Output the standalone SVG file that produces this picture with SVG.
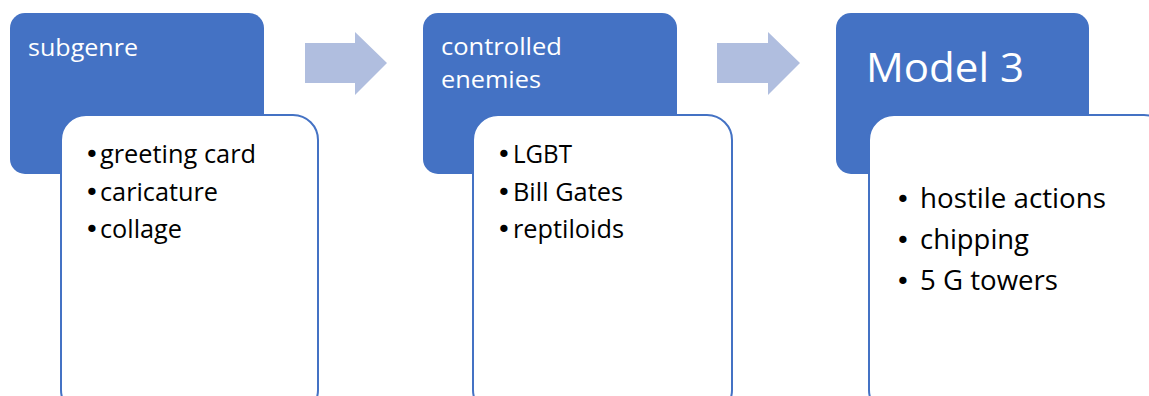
<svg xmlns="http://www.w3.org/2000/svg" width="1149" height="396" viewBox="0 0 1149 396">
<style>
.hdr{fill:#4472C4;}
.card{fill:#FFFFFF;stroke:#4472C4;stroke-width:2;}
.arrow{fill:#B0BEDF;}
.ht{fill:#FFFFFF;font-family:"Open Sans","Liberation Sans",sans-serif;font-size:24px;}
.bt{fill:#000000;font-family:"Open Sans","Liberation Sans",sans-serif;font-size:25px;}
.bt3{fill:#000000;font-family:"Open Sans","Liberation Sans",sans-serif;font-size:27px;}
.bl{fill:#000000;font-family:"DejaVu Sans",sans-serif;font-size:25px;}
</style>
<rect width="1149" height="396" fill="#FFFFFF"/>
<g id="connectors">
<polygon class="arrow" points="305,43 355,43 355,32 387,63 355,95 355,83 305,83"/>
<polygon class="arrow" points="717,43 768,43 768,32 800,63 768,95 768,83 717,83"/>
</g>
<g id="node1">
<rect class="hdr" x="10" y="13" width="254" height="161" rx="15"/>
<text class="ht" x="28" y="56" textLength="110" lengthAdjust="spacingAndGlyphs">subgenre</text>
<rect class="card" x="61" y="115" width="257" height="300" rx="25"/>
<text class="bl" x="84.5" y="163">•</text>
<text class="bt" x="100" y="163" textLength="156" lengthAdjust="spacingAndGlyphs">greeting card</text>
<text class="bl" x="84.5" y="201">•</text>
<text class="bt" x="100" y="201" textLength="118" lengthAdjust="spacingAndGlyphs">caricature</text>
<text class="bl" x="84.5" y="238">•</text>
<text class="bt" x="100" y="238" textLength="82" lengthAdjust="spacingAndGlyphs">collage</text>
</g>
<g id="node2">
<rect class="hdr" x="423" y="13" width="254" height="161" rx="15"/>
<text class="ht" x="441" y="55" textLength="121" lengthAdjust="spacingAndGlyphs">controlled</text>
<text class="ht" x="441" y="88" textLength="100" lengthAdjust="spacingAndGlyphs">enemies</text>
<rect class="card" x="473" y="115" width="259" height="300" rx="25"/>
<text class="bl" x="496.5" y="163">•</text>
<text class="bt" x="513" y="163" textLength="59" lengthAdjust="spacingAndGlyphs">LGBT</text>
<text class="bl" x="496.5" y="201">•</text>
<text class="bt" x="513" y="201" textLength="110" lengthAdjust="spacingAndGlyphs">Bill Gates</text>
<text class="bl" x="496.5" y="238">•</text>
<text class="bt" x="513" y="238" textLength="111" lengthAdjust="spacingAndGlyphs">reptiloids</text>
</g>
<g id="node3">
<rect class="hdr" x="836" y="13" width="253" height="161" rx="15"/>
<text class="ht" x="866" y="82" style="font-size:40px" textLength="158" lengthAdjust="spacingAndGlyphs">Model 3</text>
<rect class="card" x="869" y="115" width="300" height="300" rx="25"/>
<text class="bl" x="895.5" y="208">•</text>
<text class="bt3" x="920" y="208" textLength="186" lengthAdjust="spacingAndGlyphs">hostile actions</text>
<text class="bl" x="895.5" y="249">•</text>
<text class="bt3" x="920" y="249" textLength="109" lengthAdjust="spacingAndGlyphs">chipping</text>
<text class="bl" x="895.5" y="290">•</text>
<text class="bt3" x="920" y="290" textLength="138" lengthAdjust="spacingAndGlyphs">5 G towers</text>
</g>
</svg>
